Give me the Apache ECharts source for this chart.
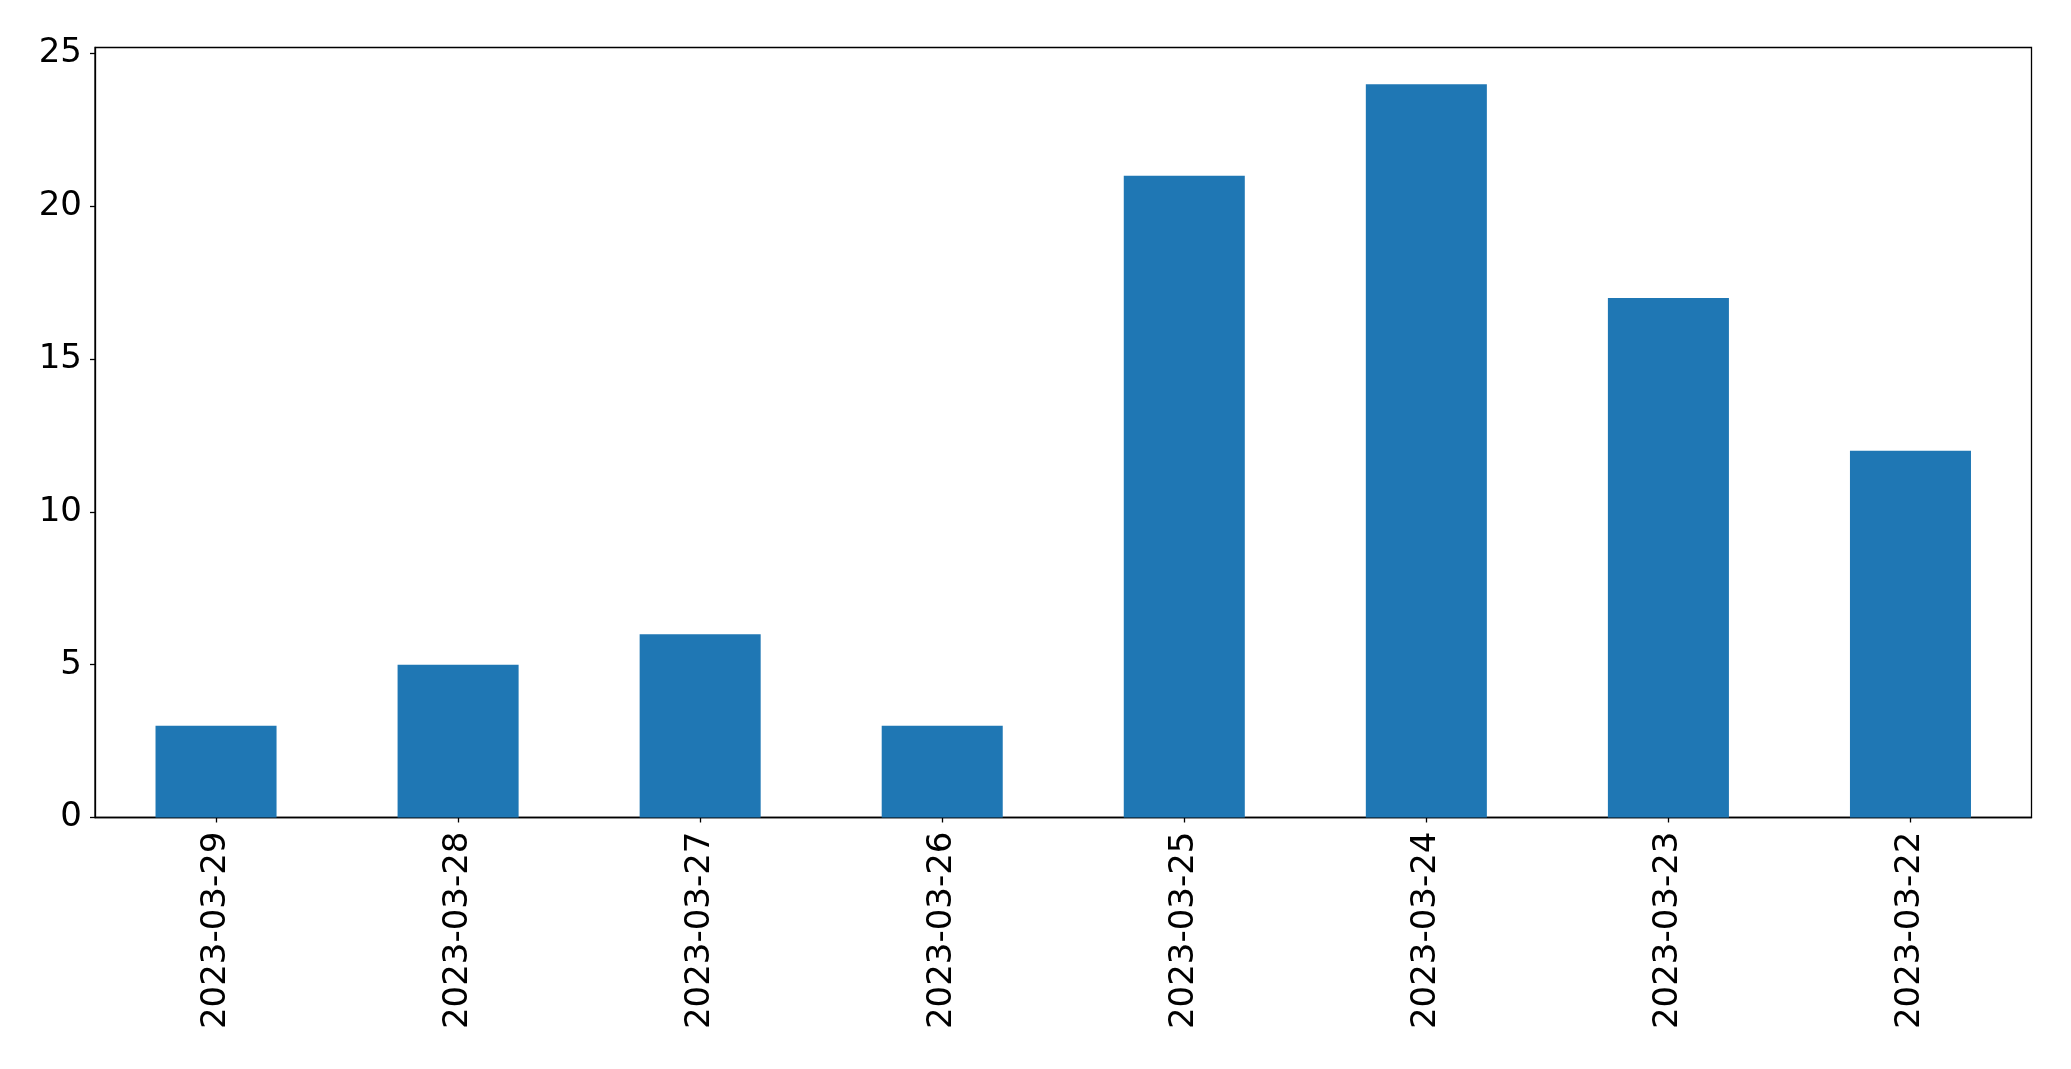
<!DOCTYPE html>
<html>
<head>
<meta charset="utf-8">
<script src="https://cdn.jsdelivr.net/npm/echarts@6/dist/echarts.min.js"></script>
<style>html,body{margin:0;padding:0;background:#fff;}#c{width:2071px;height:1069px;}</style>
</head>
<body>
<div id="c"></div>
<script>
const categories = ['2023-03-29','2023-03-28','2023-03-27','2023-03-26','2023-03-25','2023-03-24','2023-03-23','2023-03-22'];
const values = [3, 5, 6, 3, 21, 24, 17, 12];
const yTicks = [0, 5, 10, 15, 20, 25];

const chart = echarts.init(document.getElementById('c'), null, {renderer: 'canvas'});
const font = 'DejaVu Sans';
chart.setOption({
  animation: false,
  backgroundColor: '#ffffff',
  grid: {left: 95, top: 47.5, right: 39.5, bottom: 251.5, show: true, borderColor: '#000', borderWidth: 1.3, backgroundColor: 'transparent'},
  xAxis: {
    type: 'category',
    data: categories,
    boundaryGap: true,
    axisLine: {show: true, lineStyle: {color: '#000', width: 1.3}},
    axisTick: {show: true, alignWithLabel: true, length: 5, lineStyle: {color: '#000', width: 1.3}},
    axisLabel: {rotate: 90, fontSize: 34, fontFamily: font, color: '#000', margin: 14, interval: 0}
  },
  yAxis: {
    type: 'value',
    min: 0,
    max: 25.2,
    interval: 5,
    splitLine: {show: false},
    axisLine: {show: true, lineStyle: {color: '#000', width: 1.3}},
    axisTick: {show: true, length: 5, customValues: yTicks, lineStyle: {color: '#000', width: 1.3}},
    axisLabel: {fontSize: 34, fontFamily: font, color: '#000', margin: 13, customValues: yTicks}
  },
  series: [{
    type: 'bar',
    data: values,
    barWidth: '50%',
    itemStyle: {color: '#1f77b4'}
  }]
});
</script>
</body>
</html>
